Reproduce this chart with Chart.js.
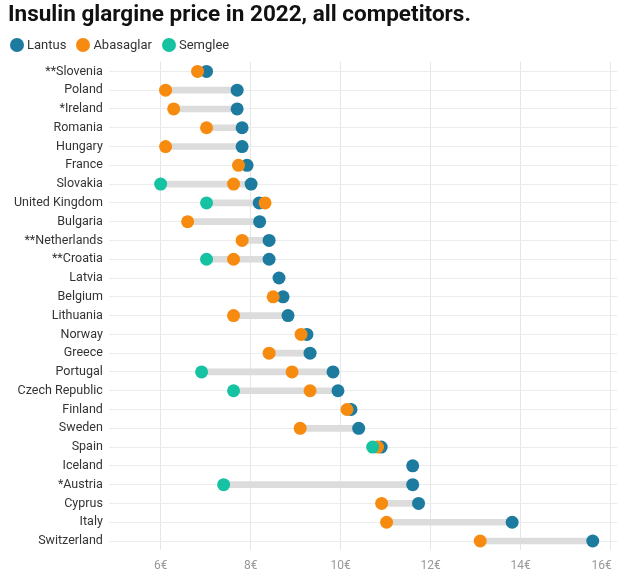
<!DOCTYPE html>
<html>
<head>
<meta charset="utf-8">
<script src="https://cdn.jsdelivr.net/npm/chart.js@4"></script>
<style>
  html, body { margin: 0; padding: 0; background: #fff; }
  #wrap { width: 624px; height: 571px; position: relative; }
  #legend { position: absolute; left: 10px; top: 37px; display: flex; align-items: center;
            font-family: Roboto, sans-serif; font-size: 13px; color: #333; }
  #legend .item { display: flex; align-items: center; margin-right: 10px; }
  #legend .dot { width: 14px; height: 14px; border-radius: 50%; margin-right: 3px; }
</style>
</head>
<body>
<div id="wrap"><canvas id="chart"></canvas><div id="legend"></div></div>
<script>
// data (EUR per unit)
const countries = ['**Slovenia', 'Poland', '*Ireland', 'Romania', 'Hungary', 'France', 'Slovakia',
    'United Kingdom', 'Bulgaria', '**Netherlands', '**Croatia', 'Latvia', 'Belgium', 'Lithuania',
    'Norway', 'Greece', 'Portugal', 'Czech Republic', 'Finland', 'Sweden', 'Spain', 'Iceland',
    '*Austria', 'Cyprus', 'Italy', 'Switzerland'];
const lantus = [7.02, 7.70, 7.70, 7.81, 7.81, 7.92, 8.01, 8.19, 8.20, 8.41, 8.41, 8.63, 8.72, 8.83,
    9.25, 9.32, 9.83, 9.94, 10.23, 10.40, 10.90, 11.60, 11.60, 11.73, 13.81, 15.60];
const abasaglar = [6.82, 6.11, 6.29, 7.02, 6.11, 7.73, 7.62, 8.32, 6.60, 7.81, 7.62, null, 8.50, 7.62,
    9.12, 8.41, 8.92, 9.32, 10.14, 9.10, 10.82, null, null, 10.91, 11.02, 13.10];
const semglee = [null, null, null, null, null, null, 6.00, 7.02, null, null, 7.02, null, null, null,
    null, null, 6.91, 7.62, null, null, 10.71, null, 7.40, null, null, null];
const xTicks = [6, 8, 10, 12, 14, 16];

const colors = { Lantus: '#1c7b9f', Abasaglar: '#f78b10', Semglee: '#15c2a1' };

// grey range bar from cheapest to most expensive
const ranges = countries.map((c, i) => {
    const vals = [lantus[i], abasaglar[i], semglee[i]].filter(v => v !== null);
    return [Math.min(...vals), Math.max(...vals)];
});

function dotSet(label, data) {
    return {
        type: 'line',
        label: label,
        data: data,
        showLine: false,
        pointRadius: 6.5,
        pointHoverRadius: 6.5,
        pointBackgroundColor: colors[label],
        pointBorderColor: colors[label],
        pointBorderWidth: 0
    };
}

// html legend
document.getElementById('legend').innerHTML = ['Lantus', 'Abasaglar', 'Semglee'].map(name =>
    `<span class="item"><span class="dot" style="background:${colors[name]}"></span>${name}</span>`
).join('');

const ctx = document.getElementById('chart').getContext('2d');
new Chart(ctx, {
    type: 'bar',
    data: {
        labels: countries,
        datasets: [
            dotSet('Semglee', semglee),
            dotSet('Abasaglar', abasaglar),
            dotSet('Lantus', lantus),
            {
                label: 'range',
                data: ranges,
                backgroundColor: '#dcdcdc',
                barThickness: 6,
                borderSkipped: false
            }
        ]
    },
    options: {
        indexAxis: 'y',
        responsive: true,
        maintainAspectRatio: false,
        animation: false,
        layout: { padding: { left: 8, right: 6, top: 2, bottom: 0 } },
        plugins: {
            title: {
                display: true,
                text: 'Insulin glargine price in 2022, all competitors.',
                align: 'start',
                color: '#111',
                font: { family: 'Roboto', size: 22.5, weight: 'bold' },
                padding: { top: 0, bottom: 33 }
            },
            legend: { display: false },
            tooltip: { enabled: false }
        },
        scales: {
            x: {
                type: 'linear',
                min: 4.85,
                max: 16.15,
                afterBuildTicks: axis => { axis.ticks = xTicks.map(v => ({ value: v })); },
                afterFit: axis => { axis.height = 20.6; axis.paddingRight = 0; },
                ticks: {
                    // last label sits just inside the right edge, as in the source
                    callback: v => v === xTicks[xTicks.length - 1] ? v + '€\u2002\u2002\u2002' : v + '€',
                    color: '#999',
                    font: { family: 'Roboto', size: 12 },
                    padding: 8
                },
                grid: { color: '#e6e6e6', drawTicks: false },
                border: { display: false }
            },
            y: {
                type: 'category',
                offset: true,
                ticks: {
                    color: '#333',
                    font: { family: 'Roboto', size: 12.5 },
                    padding: 6
                },
                grid: { color: '#ececec', offset: false, drawTicks: false },
                border: { display: false }
            }
        }
    }
});
</script>
</body>
</html>
